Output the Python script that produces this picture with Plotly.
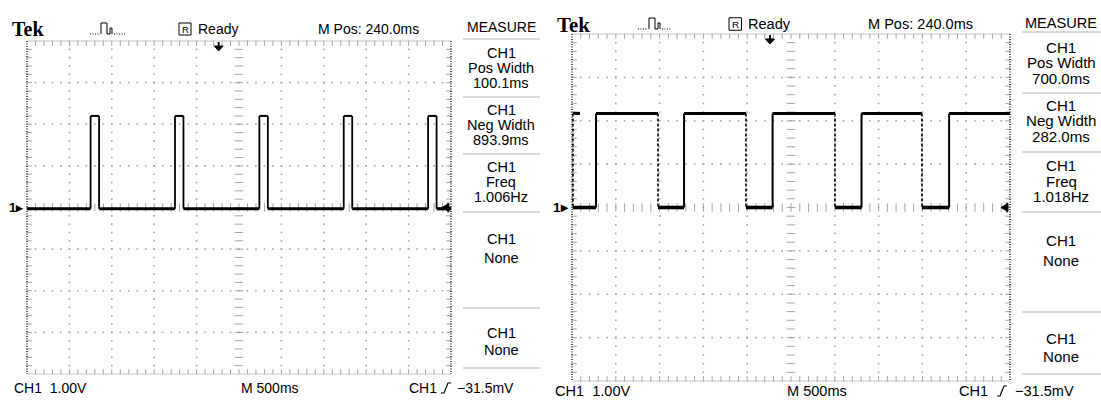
import plotly.graph_objects as go

W, H = 1101, 401

# ---------------- data ----------------
TIME_PER_DIV_MS = 500          # "M 500ms"
VOLTS_PER_DIV = 1.00           # "CH1 1.00V"
M_POS_MS = 240.0               # "M Pos: 240.0ms"

# left capture: narrow positive pulses (ms relative to trigger point)
left_rise_ms = [-1510, -515, 480, 1475, 2470]
left_fall_ms = [-1410, -415, 580, 1575, 2570]
left_levels_v = [-0.03, 2.2]          # low, high

# right capture: wide positive pulses
right_rise_ms = [-1986, -981, 30, 1045, 2045]
right_fall_ms = [-2249, -1278, -274, 742, 1735]
right_start_stub_ms = [-2249, -2169]  # short high fragment at left edge
right_levels_v = [0.0, 2.17]

measure_titles = ["Pos Width", "Neg Width", "Freq", "None", "None"]
left_measure_values = ["100.1ms", "893.9ms", "1.006Hz", "", ""]
right_measure_values = ["700.0ms", "282.0ms", "1.018Hz", "", ""]
channel = "CH1"
scale_text = "1.00V"
time_text = "M 500ms"
trig_text = "\u221231.5mV"
pos_text = "M Pos: 240.0ms"
status_text = "Ready"

# ---------------- styling / geometry ----------------
T0 = M_POS_MS - 5 * TIME_PER_DIV_MS
T1 = M_POS_MS + 5 * TIME_PER_DIV_MS
GRAY = "#a3a3a3"
FONT = "Liberation Sans, Arial, sans-serif"


def px(x):
    return x / W


def py(y):
    return 1 - y / H


panels = [
    dict(xa="x", ya="y", gx=(27, 451), gy=(41, 374), sc=1.0,
         hdr_y=29, tek_x=10, icon=(90, 126), rbox=179, ready=196, mpos=316,
         meas_cx=501, meas_y=27, sep_x=(463, 540), seps=[39, 97, 154, 212, 308, 368],
         lines=[[53, 68, 83], [110, 125, 140], [167, 182, 197], [239, 258], [333, 350]],
         bot_y=388, ch_x=12, m_x=239, tch_x=407, glyph=441, tv_x=455,
         rise=left_rise_ms, fall=left_fall_ms, lv=left_levels_v, start_hi=False,
         vals=left_measure_values),
    dict(xa="x2", ya="y2", gx=(572, 1010), gy=(34, 381), sc=1.04,
         hdr_y=24, tek_x=555, icon=(638, 671), rbox=729, ready=746, mpos=866,
         meas_cx=1061, meas_y=23, sep_x=(1022, 1101), seps=[32, 93, 152, 212, 312, 374],
         lines=[[47, 62, 78], [106, 121, 137], [165, 181, 197], [240, 260], [338, 356]],
         bot_y=391, ch_x=553, m_x=785, tch_x=957, glyph=997, tv_x=1013,
         rise=right_rise_ms, fall=right_fall_ms, lv=right_levels_v, start_hi=True,
         vals=right_measure_values),
]

fig = go.Figure()
shapes = []
annotations = []


def text(x, y, s, size=14, anchor="left", family=FONT, bold=False):
    if bold:
        s = "<b>" + s + "</b>"
    annotations.append(dict(x=px(x), y=py(y), xref="paper", yref="paper", text=s,
                            showarrow=False, xanchor=anchor, yanchor="middle",
                            font=dict(size=size, family=family, color="black")))


def path(points, close=False, fill=None, color="black", width=1, dash=None):
    d = "M " + " L ".join(f"{px(a):.5f},{py(b):.5f}" for a, b in points)
    if close:
        d += " Z"
    shp = dict(type="path", path=d, xref="paper", yref="paper",
               line=dict(color=color, width=width))
    if dash:
        shp["line"]["dash"] = dash
    if fill:
        shp["fillcolor"] = fill
    shapes.append(shp)


for i, p in enumerate(panels):
    xa, ya = p["xa"], p["ya"]
    x0, x1 = p["gx"]
    y0, y1 = p["gy"]
    ppx = (x1 - x0) / (T1 - T0)
    ppy = (y1 - y0) / 8.0
    sfx = "" if i == 0 else "2"
    fig.update_layout(**{
        "xaxis" + sfx: dict(domain=[px(x0), px(x1)], range=[T0, T1], visible=False,
                            anchor="y" + sfx),
        "yaxis" + sfx: dict(domain=[py(y1), py(y0)], range=[-4, 4], visible=False,
                            anchor="x" + sfx),
    })
    cx = T0 + 5 * TIME_PER_DIV_MS

    # grid dots
    gxs, gys = [], []
    for k in range(1, 10):
        if k == 5:
            continue
        for j in range(1, 40):
            gxs.append(T0 + k * TIME_PER_DIV_MS)
            gys.append(-4 + j * 0.2)
    for k in range(-3, 4):
        if k == 0:
            continue
        for j in range(1, 50):
            gxs.append(T0 + j * TIME_PER_DIV_MS / 5)
            gys.append(k)
    fig.add_trace(go.Scatter(x=gxs, y=gys, xaxis=xa, yaxis=ya, mode="markers",
                             marker=dict(symbol="square", size=1.6, color=GRAY),
                             hoverinfo="skip", showlegend=False))
    # centre cross ticks
    fig.add_trace(go.Scatter(x=[cx] * 39, y=[-4 + j * 0.2 for j in range(1, 40)],
                             xaxis=xa, yaxis=ya, mode="markers",
                             marker=dict(symbol="line-ew", size=6,
                                         line=dict(width=1, color=GRAY)),
                             hoverinfo="skip", showlegend=False))
    fig.add_trace(go.Scatter(x=[T0 + j * 100 for j in range(1, 50)], y=[0] * 49,
                             xaxis=xa, yaxis=ya, mode="markers",
                             marker=dict(symbol="line-ns", size=6,
                                         line=dict(width=1, color=GRAY)),
                             hoverinfo="skip", showlegend=False))
    # border ticks
    tx = [T0 + j * 100 for j in range(1, 50)]
    fig.add_trace(go.Scatter(x=tx + tx, y=[4 - 2 / ppy] * 49 + [-4 + 2 / ppy] * 49,
                             xaxis=xa, yaxis=ya, mode="markers", cliponaxis=False,
                             marker=dict(symbol="line-ns", size=4,
                                         line=dict(width=1, color=GRAY)),
                             hoverinfo="skip", showlegend=False))
    ty = [-4 + j * 0.2 for j in range(1, 40)]
    fig.add_trace(go.Scatter(x=[T0 + 2 / ppx] * 39 + [T1 - 2 / ppx] * 39, y=ty + ty,
                             xaxis=xa, yaxis=ya, mode="markers", cliponaxis=False,
                             marker=dict(symbol="line-ew", size=4,
                                         line=dict(width=1, color=GRAY)),
                             hoverinfo="skip", showlegend=False))
    # border lines
    for yy in (y0, y1):
        path([(x0, yy), (x1, yy)], color="#c4c4c4", width=1)
    for xx in (x0, x1):
        path([(xx, y0), (xx, y1)], color="black", width=1.3, dash="1px,1.5px")

    # waveform
    lo, hi = p["lv"]
    events = sorted([(t, "r") for t in p["rise"]] + [(t, "f") for t in p["fall"]])
    segs = {k: ([], []) for k in ("lo", "hi", "r", "f")}
    cur_t = T0 if not p["start_hi"] else p["fall"][0]
    cur = hi if p["start_hi"] else lo
    for t, kind in events:
        key = "hi" if cur == hi else "lo"
        segs[key][0].extend([cur_t, t, None])
        segs[key][1].extend([cur, cur, None])
        new = hi if kind == "r" else lo
        segs[kind][0].extend([t, t, None])
        segs[kind][1].extend([cur, new, None])
        cur_t, cur = t, new
    key = "hi" if cur == hi else "lo"
    segs[key][0].extend([cur_t, T1, None])
    segs[key][1].extend([cur, cur, None])
    if p["start_hi"]:
        segs["hi"][0].extend(right_start_stub_ms + [None])
        segs["hi"][1].extend([hi, hi, None])

    if i == 0:
        styles = {"lo": dict(width=3.2), "hi": dict(width=2), "r": dict(width=1.8),
                  "f": dict(width=1.8)}
    else:
        styles = {"lo": dict(width=3.6), "hi": dict(width=3), "r": dict(width=2),
                  "f": dict(width=1.6, dash="3px,2px")}
    for k in ("lo", "hi", "r", "f"):
        fig.add_trace(go.Scatter(x=segs[k][0], y=segs[k][1], xaxis=xa, yaxis=ya,
                                 mode="lines", line=dict(color="black", **styles[k]),
                                 hoverinfo="skip", showlegend=False))

    sc = p["sc"]
    fs = 14 * sc
    yc = (y0 + y1) / 2
    # header
    hy = p["hdr_y"]
    text(p["tek_x"], hy, "Tek", size=20 * sc, family="Liberation Serif, serif", bold=True)
    ia, ib = p["icon"]
    path([(ia, hy + 5), (ia + 10, hy + 5)], width=1, dash="1px,1.5px")
    path([(ia + 11, hy + 5), (ia + 11, hy - 6), (ia + 17, hy - 6), (ia + 17, hy + 5),
          (ia + 20, hy + 5), (ia + 20, hy - 1), (ia + 22, hy - 1), (ia + 22, hy + 5)],
         width=1)
    path([(ia + 24, hy + 5), (ib, hy + 5)], width=1, dash="1px,1.5px")
    rb = p["rbox"]
    shapes.append(dict(type="rect", xref="paper", yref="paper", x0=px(rb), x1=px(rb + 12 * sc),
                       y0=py(hy + 6 * sc), y1=py(hy - 6 * sc), line=dict(color="black", width=1)))
    text(rb + 6 * sc, hy, "R", size=9.5 * sc, anchor="center")
    text(p["ready"], hy, status_text, size=fs)
    text(p["mpos"], hy, pos_text, size=fs)
    text(p["meas_cx"], p["meas_y"], "MEASURE", size=fs, anchor="center")

    # measure menu
    sx0, sx1 = p["sep_x"]
    for yy in p["seps"]:
        path([(sx0, yy), (sx1, yy)], color="#b5b5b5", width=1.2)
    for b, lines in enumerate(p["lines"]):
        content = [channel, measure_titles[b]]
        if p["vals"][b]:
            content.append(p["vals"][b])
        for yy, s in zip(lines, content):
            text(p["meas_cx"], yy, s, size=14.5 * sc, anchor="center")

    # bottom status line
    by = p["bot_y"]
    text(p["ch_x"], by, channel + "&nbsp;&nbsp;" + scale_text, size=fs)
    text(p["m_x"], by, time_text, size=fs)
    text(p["tch_x"], by, channel, size=fs)
    g = p["glyph"]
    path([(g, by + 5), (g + 3, by + 5), (g + 7, by - 5), (g + 10, by - 5)], width=1.2)
    text(p["tv_x"], by, trig_text, size=fs)

    # trigger-position arrow at top
    ax = x0 + (0 - T0) * ppx
    path([(ax, y0 + 1), (ax, y0 + 5)], width=2)
    path([(ax - 4.5, y0 + 5), (ax + 4.5, y0 + 5), (ax, y0 + 10)], close=True,
         fill="black", width=1)
    # channel ground marker
    text(x0 - 1, yc, "1\u25b8", size=13 * sc, anchor="right", bold=True)
    # trigger level marker
    path([(x1 - 9, yc), (x1 - 2, yc - 4), (x1 - 2, yc + 4)], close=True, fill="black", width=1)
    path([(x1 - 3, yc - 5), (x1 - 3, yc + 5)], width=1.2)

fig.update_layout(width=W, height=H, margin=dict(l=0, r=0, t=0, b=0),
                  paper_bgcolor="white", plot_bgcolor="white",
                  shapes=shapes, annotations=annotations, showlegend=False)
fig.write_html("out.html", config={"staticPlot": True, "displayModeBar": False},
               post_script="document.body.style.margin='0';document.body.style.padding='0';")
